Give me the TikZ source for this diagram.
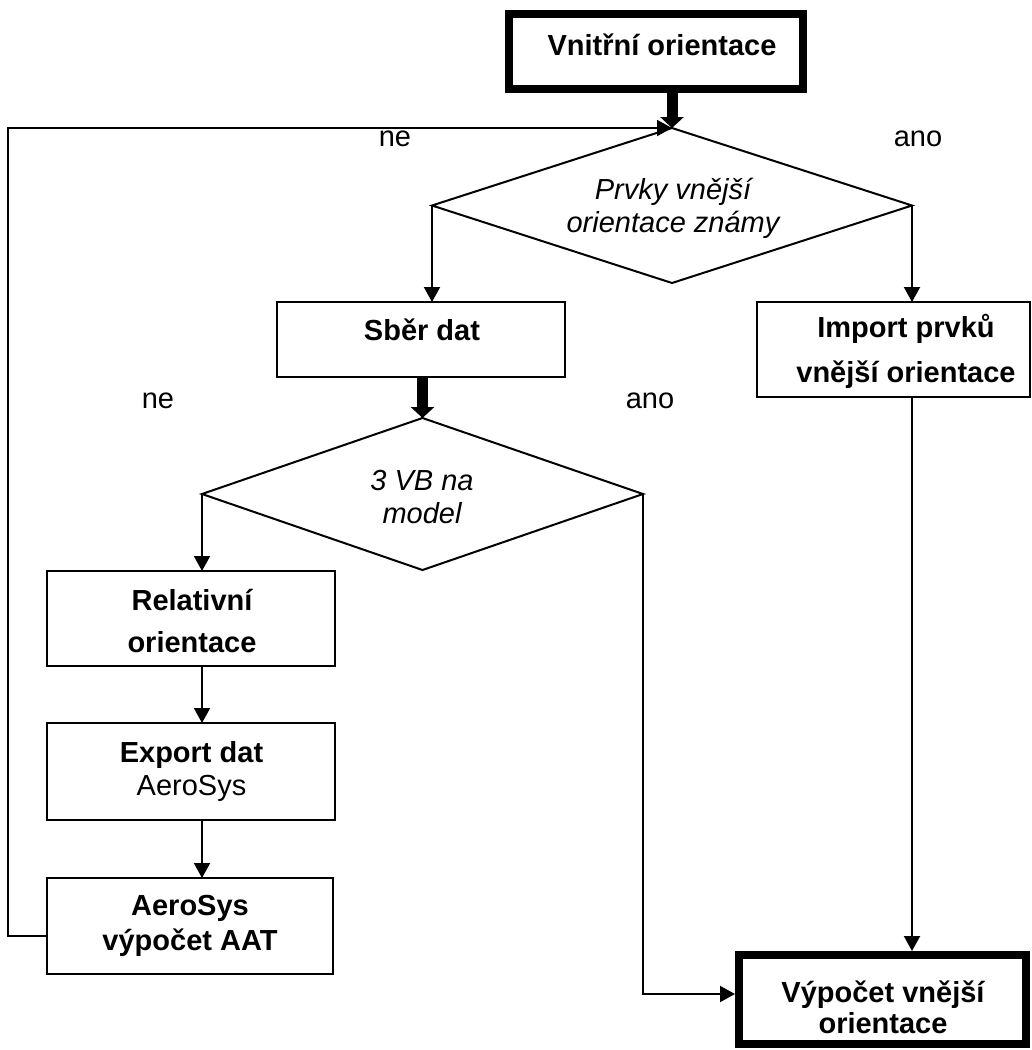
\documentclass[tikz,border=0pt]{standalone}
\usepackage{fontspec}
\setmainfont{Liberation Sans}
\usetikzlibrary{arrows.meta,shapes.geometric}
\begin{document}
\begin{tikzpicture}[x=1pt,y=-1pt,
  box/.style={draw, line width=2pt, rectangle, inner sep=0pt, outer sep=0pt},
  bigbox/.style={draw, line width=8pt, rectangle, inner sep=0pt, outer sep=0pt},
  dec/.style={draw, line width=2pt, diamond, inner sep=0pt, outer sep=0pt},
  txt/.style={font=\fontsize{29}{35}\selectfont\bfseries, align=center, anchor=base, inner sep=0pt},
  itxt/.style={font=\fontsize{29}{32.5}\selectfont\itshape, align=center, anchor=base, inner sep=0pt},
  lbl/.style={font=\fontsize{29}{35}\selectfont, anchor=base, inner sep=0pt},
  arr/.style={line width=2pt, -{Triangle[width=16pt,length=15pt]}},
  tarr/.style={line width=11pt, -{Triangle[width=23pt,length=11pt]}}
]
\useasboundingbox (0,0) rectangle (1032,1050);

% boxes and decisions
\node[bigbox, minimum width=294pt, minimum height=75pt] (vo) at (656,51.5) {};
\node[txt] (vot) at (662,55) {Vnitřní orientace};

\node[dec, minimum width=480pt, minimum height=155pt] (d1) at (672,205.5) {};
\node[itxt] (d1t) at (673,232) {Prvky vnější\\orientace známy};

\node[box, minimum width=288pt, minimum height=75pt] (sd) at (421,339.5) {};
\node[txt] (sdt) at (422,340) {Sběr dat};

\node[box, minimum width=273pt, minimum height=95pt] (ip) at (893.5,349.5) {};
\node[txt] (ipt) at (906,382) {Import prvků\\[10pt]vnější orientace};

\node[dec, minimum width=441pt, minimum height=152pt] (d2) at (422.5,494) {};
\node[itxt] (d2t) at (422,523) {3 VB na\\model};

\node[box, minimum width=288pt, minimum height=95pt] (ro) at (191,618.5) {};
\node[txt] (rot) at (192,652) {Relativní\\[7pt]orientace};

\node[box, minimum width=288pt, minimum height=97pt] (ed) at (191,771.5) {};
\node[txt] (edt) at (191.5,795) {Export dat\\[-2pt]{\mdseries AeroSys}};

\node[box, minimum width=286pt, minimum height=96pt] (as) at (190,926) {};
\node[txt] (ast) at (190,950) {AeroSys\\výpočet AAT};

\node[bigbox, minimum width=287pt, minimum height=89pt] (vv) at (882.5,999.5) {};
\node[txt] (vvt) at (883,1033) {Výpočet vnější\\[-4pt]orientace};

% labels
\node[lbl] (ne1) at (395,146) {ne};
\node[lbl] (ano1) at (918,146) {ano};
\node[lbl] (ne2) at (158,408) {ne};
\node[lbl] (ano2) at (650,408) {ano};

% connectors
\coordinate (fb) at (8,936);
\draw[tarr] (vo.south -| d1.north) -- (d1.north);
\draw[arr] ([yshift=-10pt]as.west) -- (fb) |- (d1.north);
\draw[arr] (d1.west) -- (d1.west |- sd.north);
\draw[arr] (d1.east) -- (d1.east |- ip.north);
\draw[tarr] (sd.south -| d2.north) -- (d2.north);
\draw[arr] (d2.west) -- (d2.west |- ro.north);
\draw[arr] (d2.west |- ro.south) -- (d2.west |- ed.north);
\draw[arr] (d2.west |- ed.south) -- (d2.west |- as.north);
\draw[arr, shorten >=4pt] (d1.east |- ip.south) -- (d1.east |- vv.north);
\draw[arr, shorten >=4pt] (d2.east) |- ([yshift=5.5pt]vv.west);
\end{tikzpicture}
\end{document}
